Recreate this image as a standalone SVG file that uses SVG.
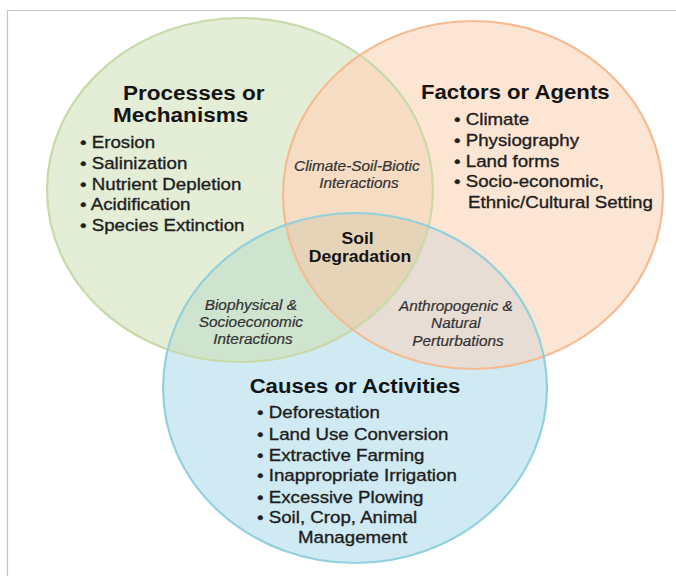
<svg xmlns="http://www.w3.org/2000/svg" width="676" height="576" viewBox="0 0 676 576">
<style>
  .frame{stroke:#c4c4c4;stroke-width:1.2;fill:none}
  .title{font-family:"Liberation Sans",Arial,sans-serif;font-weight:bold;font-size:20.5px;fill:#141414}
  .item{font-family:"Liberation Sans",Arial,sans-serif;font-size:17px;fill:#1e1e1e;stroke:#1e1e1e;stroke-width:0.35}
  .ovl{font-family:"Liberation Sans",Arial,sans-serif;font-style:italic;font-size:14px;fill:#333;stroke:#333;stroke-width:0.2}
  .core{font-family:"Liberation Sans",Arial,sans-serif;font-weight:bold;font-size:16px;fill:#141414}
  .edge{fill:none;stroke-width:2.2}
</style>
<defs>
  <clipPath id="cG"><ellipse cx="240" cy="190" rx="193" ry="172"/></clipPath>
  <clipPath id="cO"><ellipse cx="473" cy="195" rx="190" ry="174"/></clipPath>
</defs>
<rect width="676" height="576" fill="#fff"/>
<path class="frame" d="M7 10.5H676M7.5 10V576"/>

<g id="circle-processes">
  <ellipse cx="240" cy="190" rx="193" ry="172" fill="#e4edd6"/>
</g>
<g id="circle-factors">
  <ellipse cx="473" cy="195" rx="190" ry="174" fill="#fde5d3"/>
</g>
<g id="circle-causes">
  <ellipse cx="355" cy="388" rx="192" ry="175" fill="#cfeaf2"/>
</g>
<g id="overlaps">
  <g clip-path="url(#cG)"><ellipse cx="473" cy="195" rx="190" ry="174" fill="#f6dcc3"/></g>
  <g clip-path="url(#cG)"><ellipse cx="355" cy="388" rx="192" ry="175" fill="#cfe4cf"/></g>
  <g clip-path="url(#cO)"><ellipse cx="355" cy="388" rx="192" ry="175" fill="#e8ddd4"/></g>
  <g clip-path="url(#cG)"><g clip-path="url(#cO)"><ellipse cx="355" cy="388" rx="192" ry="175" fill="#e6d4b8"/></g></g>
</g>
<g id="outlines">
  <ellipse class="edge" cx="240" cy="190" rx="193" ry="172" stroke="#c8daa8"/>
  <ellipse class="edge" cx="473" cy="195" rx="190" ry="174" stroke="#f5bb92"/>
  <ellipse class="edge" cx="355" cy="388" rx="192" ry="175" stroke="#92d0dd"/>
</g>

<g id="node-processes">
  <text class="title" transform="translate(123,0) scale(1.1,1)"><tspan x="0" y="100">Processes or</tspan></text>
  <text class="title" transform="translate(113,0) scale(1.1,1)"><tspan x="0" y="122">Mechanisms</tspan></text>
  <text class="item" transform="translate(80,0) scale(1.1,1)">
    <tspan x="0" y="148">• Erosion</tspan>
    <tspan x="0" y="169">• Salinization</tspan>
    <tspan x="0" y="190">• Nutrient Depletion</tspan>
    <tspan x="0" y="210">• Acidification</tspan>
    <tspan x="0" y="231">• Species Extinction</tspan>
  </text>
</g>

<g id="node-factors">
  <text class="title" transform="translate(421,0) scale(1.08,1)"><tspan x="0" y="99">Factors or Agents</tspan></text>
  <text class="item" transform="translate(454,0) scale(1.1,1)">
    <tspan x="0" y="125">• Climate</tspan>
    <tspan x="0" y="146">• Physiography</tspan>
    <tspan x="0" y="167">• Land forms</tspan>
    <tspan x="0" y="187">• Socio-economic,</tspan>
  </text>
  <text class="item" transform="translate(468,0) scale(1.1,1)"><tspan x="0" y="208">Ethnic/Cultural Setting</tspan></text>
</g>

<g id="node-causes">
  <text class="title" transform="translate(355,0) scale(1.08,1)" text-anchor="middle"><tspan x="0" y="393">Causes or Activities</tspan></text>
  <text class="item" transform="translate(257,0) scale(1.1,1)">
    <tspan x="0" y="418">• Deforestation</tspan>
    <tspan x="0" y="440">• Land Use Conversion</tspan>
    <tspan x="0" y="461">• Extractive Farming</tspan>
    <tspan x="0" y="481">• Inappropriate Irrigation</tspan>
    <tspan x="0" y="503">• Excessive Plowing</tspan>
    <tspan x="0" y="523">• Soil, Crop, Animal</tspan>
  </text>
  <text class="item" transform="translate(298,0) scale(1.1,1)"><tspan x="0" y="543">Management</tspan></text>
</g>

<g id="overlap-climate-soil-biotic">
  <text class="ovl" transform="translate(359,0) scale(1.1,1)" text-anchor="middle">
    <tspan x="0" y="171">Climate-Soil-Biotic</tspan>
    <tspan x="0" y="188">Interactions</tspan>
  </text>
</g>
<g id="overlap-biophysical">
  <text class="ovl" transform="translate(253,0) scale(1.1,1)" text-anchor="middle">
    <tspan x="0" y="310">Biophysical &amp;</tspan>
    <tspan x="0" y="327">Socioeconomic</tspan>
    <tspan x="0" y="344">Interactions</tspan>
  </text>
</g>
<g id="overlap-anthropogenic">
  <text class="ovl" transform="translate(458,0) scale(1.1,1)" text-anchor="middle">
    <tspan x="0" y="311">Anthropogenic &amp;</tspan>
    <tspan x="0" y="328">Natural</tspan>
    <tspan x="0" y="346">Perturbations</tspan>
  </text>
</g>
<g id="node-soil-degradation">
  <text class="core" transform="translate(360,0) scale(1.1,1)" text-anchor="middle">
    <tspan x="0" y="244">Soil</tspan>
    <tspan x="0" y="262">Degradation</tspan>
  </text>
</g>
</svg>
